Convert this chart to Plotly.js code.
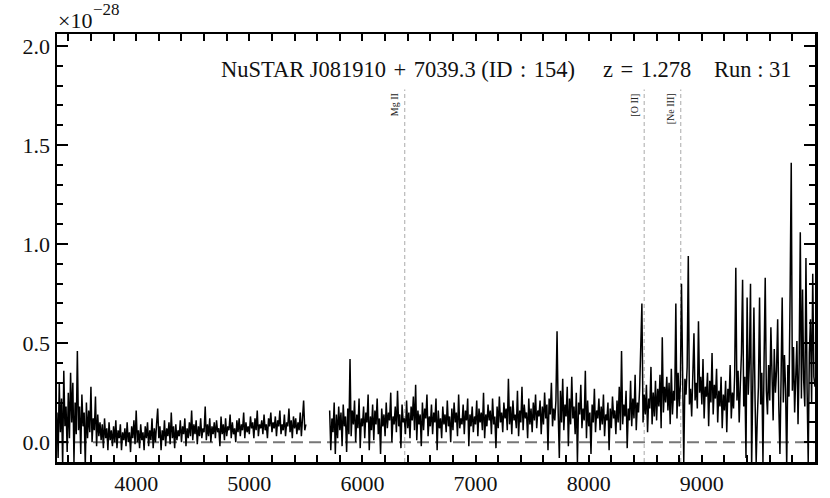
<!DOCTYPE html>
<html>
<head>
<meta charset="utf-8">
<script src="https://cdn.plot.ly/plotly-3.0.1.min.js"></script>
<style>html,body{margin:0;padding:0;background:#fff;}#chart{width:830px;height:498px;}</style>
</head>
<body>
<div id="chart"></div>
<script>
// ---- data (flux in units of 1e-28) ----
const blueStart = 3300;   // first wavelength of blue arm (Å)
const redStart = 5710;    // first wavelength of red arm (Å)
const pixStep = 10;       // sampling (Å)
const blueFlux = [
  0.15,-0.08,0.30,0.05,0.22,-0.12,0.36,0.08,0.18,-0.05,
  0.25,0.02,0.35,0.10,0.30,-0.10,0.20,0.04,0.46,0.06,
  0.18,-0.06,0.24,0.08,0.15,-0.12,0.20,0.02,0.16,0.05,
  0.28,0.00,0.12,0.06,0.23,-0.02,0.14,0.03,0.10,0.01,
  0.09,-0.03,0.12,0.02,0.07,-0.04,0.10,0.01,0.06,-0.02,
  0.08,0.00,0.11,-0.03,0.06,0.02,0.09,-0.04,0.05,0.01,
  0.07,-0.02,0.10,0.00,0.05,-0.05,0.08,0.02,0.11,-0.01,
  0.16,0.00,0.06,-0.03,0.09,0.01,0.05,-0.04,0.08,0.02,
  0.10,-0.02,0.06,0.01,0.12,-0.03,0.07,0.00,0.09,0.17,
  0.02,0.08,-0.04,0.06,0.01,0.11,-0.02,0.07,0.03,0.10,
  -0.01,0.15,0.02,0.08,-0.03,0.09,0.01,0.06,0.03,0.11,
  0.00,0.08,0.04,0.12,-0.02,0.07,0.02,0.10,0.03,0.16,
  0.01,0.09,0.04,0.11,-0.01,0.08,0.03,0.12,0.02,0.07,
  0.05,0.18,0.01,0.09,0.03,0.12,0.00,0.08,0.04,0.10,
  0.02,0.11,0.05,0.07,-0.02,0.13,0.04,0.09,0.01,0.12,
  0.03,0.08,0.06,0.14,0.02,0.10,0.04,0.07,0.00,0.11,
  0.05,0.12,0.03,0.09,0.06,0.15,0.02,0.10,0.05,0.08,
  0.04,0.13,0.07,0.10,0.02,0.12,0.06,0.16,0.03,0.09,
  0.07,0.11,0.04,0.14,0.06,0.09,0.02,0.12,0.08,0.15,
  0.05,0.10,0.07,0.13,0.03,0.11,0.08,0.16,0.04,0.09,
  0.06,0.14,0.03,0.10,0.08,0.17,0.05,0.11,0.02,0.13,
  0.07,0.12,0.04,0.10,0.06,0.15,0.03,0.11,0.21,0.06,
  0.09
];
const redFlux = [
  0.16,-0.04,0.12,0.05,0.20,-0.06,0.14,0.02,0.18,
  0.06,0.15,-0.02,0.19,0.08,0.13,-0.05,0.17,0.04,0.42,
  0.03,0.16,0.09,0.21,0.00,0.14,0.07,0.22,-0.03,0.12,
  0.08,0.18,0.02,0.15,0.10,0.24,-0.04,0.13,0.06,0.19,
  0.01,0.16,0.09,0.22,0.04,0.12,-0.06,0.17,0.08,0.14,
  0.03,0.20,0.07,0.15,0.11,0.25,0.00,0.13,0.09,0.18,
  0.05,0.26,0.08,0.14,-0.03,0.19,0.10,0.12,0.04,0.21,
  0.07,0.15,0.02,0.18,0.11,0.23,0.06,0.29,0.01,0.16,
  0.09,0.14,-0.02,0.20,0.06,0.17,0.12,0.24,0.03,0.13,
  0.08,0.19,0.04,0.15,0.10,0.22,-0.04,0.16,0.07,0.12,
  0.02,0.18,0.09,0.14,0.05,0.21,0.08,0.13,0.00,0.17,
  0.06,0.20,0.10,0.15,0.03,0.24,0.07,0.12,0.09,0.19,
  0.04,0.16,0.11,0.22,-0.02,0.14,0.08,0.18,0.05,0.13,
  0.09,0.21,0.03,0.17,0.10,0.15,0.06,0.25,0.02,0.14,
  0.08,0.19,0.11,0.16,0.04,0.22,0.09,0.13,-0.03,0.18,
  0.07,0.23,0.10,0.15,0.05,0.20,0.12,0.17,0.06,0.32,
  0.09,0.18,0.04,0.21,0.11,0.14,0.07,0.26,0.03,0.16,
  0.10,0.28,0.06,0.19,0.12,0.15,0.02,0.22,0.09,0.17,
  0.05,0.20,0.11,0.24,0.07,0.16,0.13,0.21,0.04,0.18,
  0.09,0.25,0.12,0.19,-0.04,0.22,0.14,0.30,0.08,0.17,
  0.11,0.21,0.56,0.15,-0.08,0.26,0.10,0.32,0.06,0.19,
  0.13,0.28,-0.02,0.22,0.09,0.33,0.12,0.18,0.04,0.25,
  -0.10,0.20,0.14,0.29,0.07,0.17,0.11,0.36,0.02,0.21,
  0.08,0.15,-0.06,0.19,0.10,0.27,0.05,0.16,0.12,0.22,
  0.06,0.18,0.09,0.24,0.03,0.14,0.11,0.20,-0.04,0.17,
  0.07,0.23,0.12,0.16,0.04,0.21,0.10,0.28,0.06,0.46,
  0.09,0.19,0.13,0.26,-0.03,0.17,0.11,0.31,0.08,0.22,
  0.12,0.34,0.06,0.20,0.15,0.27,0.51,0.70,0.10,0.24,
  0.14,0.29,0.05,0.22,0.17,0.38,0.09,0.25,0.13,0.31,
  0.11,0.27,0.18,0.34,0.07,0.53,0.15,0.28,0.20,0.33,
  0.16,0.30,0.09,0.37,0.14,0.26,0.21,0.70,0.12,0.35,
  0.18,0.29,0.80,0.16,-0.10,0.32,0.24,0.38,0.94,0.19,
  0.27,0.13,0.36,0.55,0.21,0.30,0.17,0.61,0.25,0.33,
  0.19,0.42,0.12,0.28,0.23,0.35,0.08,0.31,0.20,0.45,
  0.14,0.29,0.22,0.37,0.10,0.26,0.18,0.33,0.07,0.24,
  0.16,0.31,0.05,0.27,0.20,0.39,0.12,0.25,0.17,0.34,
  0.88,0.21,0.36,0.10,0.29,0.45,0.82,0.18,0.33,-0.08,
  0.73,0.24,0.40,0.80,-0.12,0.31,0.68,0.22,-0.10,0.12,
  0.28,0.73,0.19,0.35,-0.10,0.42,0.83,0.26,0.14,0.39,
  0.21,0.58,0.30,0.11,0.47,0.25,0.36,0.62,0.18,-0.06,
  0.32,0.73,0.20,0.44,0.27,-0.12,0.39,0.23,0.75,1.41,
  0.26,0.48,0.15,0.35,0.51,0.09,0.40,1.06,0.22,0.77,
  0.31,0.18,0.93,0.27,-0.10,0.45,0.62,0.20,0.85,0.33,
  0.28
];
const lineNames = ['Mg II', '[O II]', '[Ne III]'];
const lineRest = [2798, 3727, 3869];
const redshift = 1.278;
const lineTop = 1.78;
const titleParts = [
  'NuSTAR J081910\u2004+\u20047039.3 (ID\u2004:\u2004154)',
  'z\u2004=\u20041.278',
  'Run : 31'
];
const xTickVals = [3400,3600,3800,4000,4200,4400,4600,4800,5000,5200,5400,5600,5800,6000,6200,6400,6600,6800,7000,7200,7400,7600,7800,8000,8200,8400,8600,8800,9000,9200,9400,9600,9800];
const xTickText = ['','','','4000','','','','','5000','','','','','6000','','','','','7000','','','','','8000','','','','','9000','','','',''];

// ---- build ----
const xs = [], ys = [];
blueFlux.forEach((v, i) => { xs.push(blueStart + i * pixStep); ys.push(v); });
xs.push(null); ys.push(null);
redFlux.forEach((v, i) => { xs.push(redStart + i * pixStep); ys.push(v); });

const font = 'Liberation Serif, Times New Roman, serif';
const obs = lineRest.map(r => r * (1 + redshift));

const shapes = obs.map(w => ({
  type: 'line', xref: 'x', yref: 'y', x0: w, x1: w, y0: -0.1, y1: lineTop,
  line: {color: '#aaaaaa', width: 1, dash: '4px,3px'}, layer: 'below'
}));

const annotations = obs.map((w, i) => ({
  x: w, y: lineTop - 0.01, xref: 'x', yref: 'y', text: lineNames[i], showarrow: false,
  textangle: -90, xanchor: 'right', yanchor: 'top', xshift: -2,
  font: {family: font, size: 10, color: '#222'}
}));
const PW = 758, PH = 428;
const px2x = p => (p - 57) / PW;
const py2y = p => (462 - p) / PH;
const titleFont = {family: font, size: 22.5, color: '#111'};
annotations.push({x: px2x(219), y: py2y(69), xref: 'paper', yref: 'paper', xanchor: 'left', yanchor: 'middle',
  text: titleParts[0], showarrow: false, font: titleFont});
annotations.push({x: px2x(601), y: py2y(69), xref: 'paper', yref: 'paper', xanchor: 'left', yanchor: 'middle',
  text: titleParts[1], showarrow: false, font: titleFont});
annotations.push({x: px2x(794), y: py2y(69), xref: 'paper', yref: 'paper', xanchor: 'right', yanchor: 'middle',
  text: titleParts[2], showarrow: false, font: titleFont});
annotations.push({x: px2x(56), y: py2y(20), xref: 'paper', yref: 'paper', xanchor: 'left', yanchor: 'middle',
  text: '\u00d710', showarrow: false, font: {family: font, size: 22, color: '#111'}});
annotations.push({x: px2x(91), y: py2y(10), xref: 'paper', yref: 'paper', xanchor: 'left', yanchor: 'middle',
  text: '\u221228', showarrow: false, font: {family: font, size: 17, color: '#111'}});

const traces = [
  {x: [3300, 10000], y: [0, 0], mode: 'lines', line: {color: '#777', width: 2, dash: '12px,6px'}, hoverinfo: 'skip'},
  {x: xs, y: ys, mode: 'lines', line: {color: '#000', width: 1.5}, connectgaps: false, hoverinfo: 'skip'}
];

const layout = {
  width: 830, height: 498,
  margin: {l: 57, r: 15, t: 34, b: 36},
  paper_bgcolor: '#fff', plot_bgcolor: '#fff',
  showlegend: false,
  font: {family: font, size: 22, color: '#111'},
  xaxis: {
    range: [3300, 10000], showgrid: false, zeroline: false,
    showline: true, linecolor: '#000', linewidth: 2.5, mirror: 'allticks',
    ticks: 'inside', ticklen: 7, tickwidth: 2, tickcolor: '#000',
    tickmode: 'array', tickvals: xTickVals, ticktext: xTickText,
    tickfont: {family: font, size: 22, color: '#111'}
  },
  yaxis: {
    range: [-0.1, 2.06], showgrid: false, zeroline: false,
    showline: true, linecolor: '#000', linewidth: 2.5, mirror: 'allticks',
    ticks: 'inside', ticklen: 11, tickwidth: 2, tickcolor: '#000',
    tickmode: 'linear', tick0: 0, dtick: 0.5, tickformat: '.1f',
    minor: {ticks: 'inside', ticklen: 6, tickwidth: 2, tickcolor: '#000', dtick: 0.1, tick0: 0},
    tickfont: {family: font, size: 22, color: '#111'}
  },
  shapes: shapes,
  annotations: annotations
};

Plotly.newPlot('chart', traces, layout, {displayModeBar: false, staticPlot: true});
</script>
</body>
</html>
